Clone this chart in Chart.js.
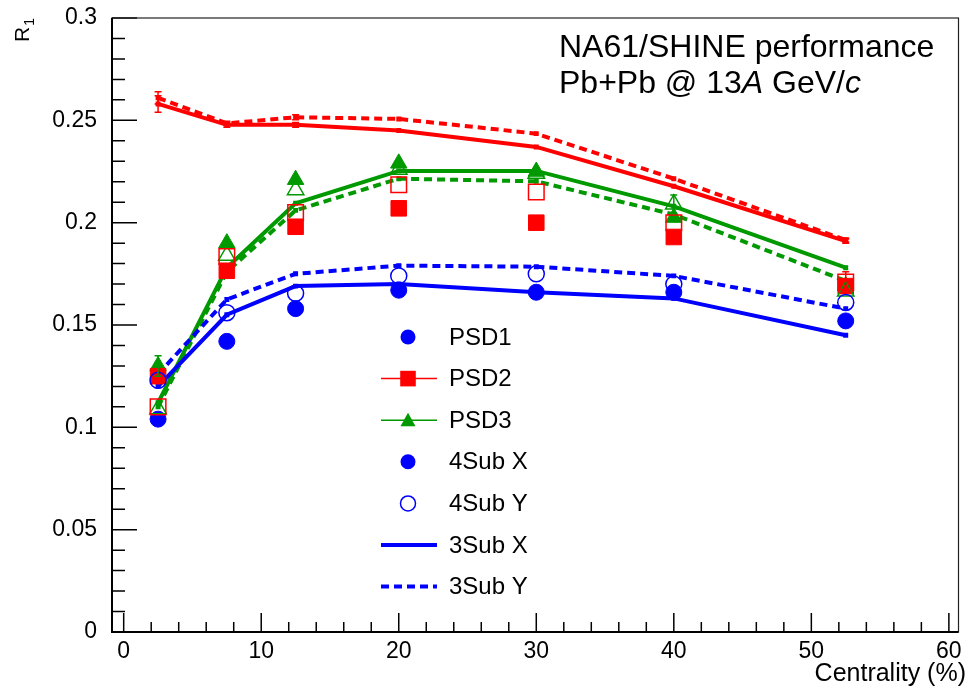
<!DOCTYPE html>
<html>
<head>
<meta charset="utf-8">
<title>R1 vs centrality</title>
<script src="https://cdn.jsdelivr.net/npm/chart.js@4.4.0/dist/chart.umd.min.js"></script>
<style>
  body { margin: 0; background: #fff; }
  #wrap { width: 971px; height: 687px; }
</style>
</head>
<body>
<div id="wrap"><canvas id="r1Chart" width="971" height="687"></canvas></div>
<script>
// Các bin centrality (%)
const centrality = [2.5, 7.5, 12.5, 20, 30, 40, 52.5];

// Nhãn trục
const xTicks = [0, 10, 20, 30, 40, 50, 60];
const yTicks = [0, 0.05, 0.1, 0.15, 0.2, 0.25, 0.3];
const yTickLabels = ['0', '0.05', '0.1', '0.15', '0.2', '0.25', '0.3'];

// PSD1 (xanh)
const psd1Sub4X = [0.104, 0.142, 0.158, 0.167, 0.166, 0.166, 0.152];
const psd1Sub4Y = [0.123, 0.156, 0.1655, 0.174, 0.175, 0.170, 0.161];
const psd1Sub3X = [0.120, 0.155, 0.169, 0.170, 0.166, 0.163, 0.145];
const psd1Sub3Y = [0.126, 0.1625, 0.175, 0.179, 0.1785, 0.174, 0.158];

// PSD2 (đỏ)
const psd2Sub4X = [0.125, 0.1765, 0.198, 0.207, 0.200, 0.193, 0.169];
const psd2Sub4Y = [0.110, 0.1835, 0.205, 0.2185, 0.215, 0.200, 0.171];
const psd2Sub3X = [0.258, 0.2478, 0.2478, 0.245, 0.237, 0.2178, 0.191];
const psd2Sub3Y = [0.261, 0.2485, 0.2515, 0.2507, 0.2435, 0.2215, 0.1915];

// PSD3 (lục)
const psd3Sub4X = [0.130, 0.190, 0.221, 0.229, 0.225, 0.2025, 0.169];
const psd3Sub4Y = [0.109, 0.184, 0.216, 0.226, 0.224, 0.209, 0.1665];
const psd3Sub3X = [0.112, 0.178, 0.2095, 0.2253, 0.2253, 0.208, 0.178];
const psd3Sub3Y = [0.110, 0.176, 0.206, 0.2215, 0.2202, 0.204, 0.1715];

// Sai số nhìn thấy được
const psd2Sub3XErr = [0.004, 0.0012, 0.0012, 0, 0, 0, 0.001];
const psd2Sub3YErr = [0.003, 0.001, 0.0012, 0, 0, 0, 0.001];
const psd3Sub4XErr = [0.005, 0, 0, 0, 0, 0, 0];
const psd3Sub4YErr = [0, 0, 0, 0, 0, 0.0045, 0];
const psd2Sub4YErr = [0, 0, 0, 0, 0, 0, 0.005];

const BLUE = '#0000ff';
const RED = '#ff0000';
const GREEN = '#009900';
const FONT = "'Liberation Sans', Arial, Helvetica, sans-serif";

function pts(vals) {
    return centrality.map((c, i) => ({ x: c, y: vals[i] }));
}

function markerSet(label, vals, color, style, filled, radius, err) {
    return {
        label: label,
        data: pts(vals),
        showLine: false,
        pointStyle: style,
        pointRadius: radius,
        pointHoverRadius: radius,
        pointBackgroundColor: filled ? color : 'rgba(0,0,0,0)',
        pointBorderColor: color,
        pointBorderWidth: filled ? 1 : 1.5,
        yErr: err || null
    };
}

function lineSet(label, vals, color, dashed, err) {
    return {
        label: label,
        data: pts(vals),
        showLine: true,
        borderColor: color,
        borderWidth: 4,
        borderDash: dashed ? [8, 5] : [],
        pointStyle: 'rect',
        pointRadius: 3.5,
        pointHoverRadius: 3.5,
        pointBackgroundColor: color,
        pointBorderColor: color,
        pointBorderWidth: 0,
        fill: false,
        tension: 0,
        yErr: err || null
    };
}

// Khung, vạch chia kiểu ROOT (vạch hướng vào trong)
const rootFrame = {
    id: 'rootFrame',
    beforeDatasetsDraw(chart) {
        const { ctx, chartArea: a, scales: { x, y } } = chart;
        ctx.save();
        ctx.strokeStyle = '#000';
        ctx.lineWidth = 1.5;
        ctx.beginPath();
        for (let k = 0; k <= 30; k++) {
            const px = x.getPixelForValue(k * 2);
            const len = (k % 5 === 0) ? 19 : 10;
            ctx.moveTo(px, a.bottom);
            ctx.lineTo(px, a.bottom - len);
        }
        for (let k = 0; k <= 30; k++) {
            const py = y.getPixelForValue(k / 100);
            const len = (k % 5 === 0) ? 25 : 13;
            ctx.moveTo(a.left, py);
            ctx.lineTo(a.left + len, py);
        }
        ctx.stroke();

        // khung
        ctx.lineWidth = 1.2;
        ctx.strokeStyle = '#222';
        ctx.strokeRect(a.left, a.top, a.right - a.left, a.bottom - a.top);
        ctx.lineWidth = 2;
        ctx.strokeStyle = '#000';
        ctx.beginPath();
        ctx.moveTo(a.left, a.top);
        ctx.lineTo(a.left, a.bottom);
        ctx.lineTo(a.right, a.bottom);
        ctx.stroke();
        ctx.restore();
    },
    afterDatasetsDraw(chart) {
        const { ctx, scales: { x, y } } = chart;
        ctx.save();
        ctx.lineWidth = 1.5;
        chart.data.datasets.forEach(ds => {
            if (!ds.yErr) return;
            ctx.strokeStyle = ds.pointBorderColor;
            ds.data.forEach((p, i) => {
                const e = ds.yErr[i];
                if (!e) return;
                const px = x.getPixelForValue(p.x);
                const yTop = y.getPixelForValue(p.y + e);
                const yBot = y.getPixelForValue(p.y - e);
                ctx.beginPath();
                ctx.moveTo(px, yTop); ctx.lineTo(px, yBot);
                ctx.moveTo(px - 3.5, yTop); ctx.lineTo(px + 3.5, yTop);
                ctx.moveTo(px - 3.5, yBot); ctx.lineTo(px + 3.5, yBot);
                ctx.stroke();
            });
        });
        ctx.restore();
    },
    afterDraw(chart) {
        const ctx = chart.ctx;
        ctx.save();
        ctx.fillStyle = '#000';
        ctx.textBaseline = 'alphabetic';

        // Tiêu đề
        ctx.font = '32px ' + FONT;
        ctx.textAlign = 'left';
        ctx.fillText('NA61/SHINE performance', 559, 57);
        let cx = 559;
        const parts = [['Pb+Pb @ 13', false], ['A', true], [' GeV/', false], ['c', true]];
        parts.forEach(([t, it]) => {
            ctx.font = (it ? 'italic ' : '') + '32px ' + FONT;
            ctx.fillText(t, cx, 93);
            cx += ctx.measureText(t).width;
        });

        // Tiêu đề trục x
        ctx.font = '25px ' + FONT;
        ctx.textAlign = 'right';
        ctx.fillText('Centrality (%)', 966, 681);

        // Tiêu đề trục y: R_1
        ctx.save();
        ctx.translate(29, 18);
        ctx.rotate(-Math.PI / 2);
        ctx.textAlign = 'right';
        ctx.font = '14px ' + FONT;
        ctx.fillText('1', 0, 5);
        const w1 = ctx.measureText('1').width;
        ctx.font = '21px ' + FONT;
        ctx.fillText('R', -w1 - 1, 0);
        ctx.restore();

        // Chú thích
        const legendRows = [
            { text: 'PSD1', kind: 'circle', color: BLUE, filled: true },
            { text: 'PSD2', kind: 'rect', color: RED, filled: true, line: true },
            { text: 'PSD3', kind: 'triangle', color: GREEN, filled: true, line: true },
            { text: '4Sub X', kind: 'circle', color: BLUE, filled: true },
            { text: '4Sub Y', kind: 'circle', color: BLUE, filled: false },
            { text: '3Sub X', kind: 'solid', color: BLUE },
            { text: '3Sub Y', kind: 'dashed', color: BLUE }
        ];
        const mx = 408, lx0 = 381, lx1 = 437, tx = 449;
        legendRows.forEach((r, i) => {
            const ry = 337 + i * 41.6;
            ctx.strokeStyle = r.color;
            ctx.fillStyle = r.color;
            if (r.kind === 'solid' || r.kind === 'dashed') {
                ctx.lineWidth = 4;
                ctx.setLineDash(r.kind === 'dashed' ? [8, 5] : []);
                ctx.beginPath();
                ctx.moveTo(lx0, ry); ctx.lineTo(lx1, ry);
                ctx.stroke();
                ctx.setLineDash([]);
            } else {
                if (r.line) {
                    ctx.lineWidth = 1.5;
                    ctx.beginPath();
                    ctx.moveTo(lx0, ry); ctx.lineTo(lx1, ry);
                    ctx.stroke();
                }
                ctx.beginPath();
                if (r.kind === 'circle') {
                    ctx.arc(mx, ry, 7.5, 0, Math.PI * 2);
                } else if (r.kind === 'rect') {
                    ctx.rect(mx - 7.8, ry - 7.8, 15.6, 15.6);
                } else {
                    ctx.moveTo(mx, ry - 7.5);
                    ctx.lineTo(mx + 7.5, ry + 6);
                    ctx.lineTo(mx - 7.5, ry + 6);
                    ctx.closePath();
                }
                if (r.filled) {
                    ctx.fill();
                } else {
                    ctx.lineWidth = 1.5;
                    ctx.stroke();
                }
            }
            ctx.fillStyle = '#000';
            ctx.font = '24px ' + FONT;
            ctx.textAlign = 'left';
            ctx.textBaseline = 'middle';
            ctx.fillText(r.text, tx, ry + 1);
        });
        ctx.restore();
    }
};

const ctx = document.getElementById('r1Chart').getContext('2d');
const chart = new Chart(ctx, {
    type: 'scatter',
    data: {
        datasets: [
            // điểm rỗng (4Sub Y)
            markerSet('PSD1 4Sub Y', psd1Sub4Y, BLUE, 'circle', false, 8),
            markerSet('PSD2 4Sub Y', psd2Sub4Y, RED, 'rect', false, 11, psd2Sub4YErr),
            markerSet('PSD3 4Sub Y', psd3Sub4Y, GREEN, 'triangle', false, 9.5, psd3Sub4YErr),
            // điểm đặc (4Sub X)
            markerSet('PSD1 4Sub X', psd1Sub4X, BLUE, 'circle', true, 8),
            markerSet('PSD2 4Sub X', psd2Sub4X, RED, 'rect', true, 11),
            markerSet('PSD3 4Sub X', psd3Sub4X, GREEN, 'triangle', true, 9.5, psd3Sub4XErr),
            // đường 3Sub
            lineSet('PSD1 3Sub X', psd1Sub3X, BLUE, false),
            lineSet('PSD1 3Sub Y', psd1Sub3Y, BLUE, true),
            lineSet('PSD2 3Sub X', psd2Sub3X, RED, false, psd2Sub3XErr),
            lineSet('PSD2 3Sub Y', psd2Sub3Y, RED, true, psd2Sub3YErr),
            lineSet('PSD3 3Sub X', psd3Sub3X, GREEN, false),
            lineSet('PSD3 3Sub Y', psd3Sub3Y, GREEN, true)
        ]
    },
    options: {
        responsive: false,
        animation: false,
        devicePixelRatio: 1,
        layout: { padding: { top: 18, right: 5, left: 0, bottom: 0 } },
        plugins: {
            legend: { display: false },
            tooltip: { enabled: false }
        },
        scales: {
            x: {
                type: 'linear',
                min: -0.85,
                max: 60.7,
                grid: { display: false },
                border: { display: false },
                afterBuildTicks: (s) => { s.ticks = xTicks.map(v => ({ value: v })); },
                afterFit: (s) => { s.height = 55; s.paddingLeft = 0; s.paddingRight = 0; },
                ticks: {
                    color: '#000',
                    padding: -2,
                    maxRotation: 0,
                    font: { family: FONT, size: 23 },
                    callback: (v) => String(v)
                }
            },
            y: {
                type: 'linear',
                min: 0,
                max: 0.3,
                grid: { display: false },
                border: { display: false },
                afterBuildTicks: (s) => { s.ticks = yTicks.map(v => ({ value: v })); },
                afterFit: (s) => { s.width = 112; s.paddingTop = 0; s.paddingBottom = 0; },
                ticks: {
                    color: '#000',
                    padding: 7,
                    font: { family: FONT, size: 23 },
                    callback: (v, i) => yTickLabels[i]
                }
            }
        }
    },
    plugins: [rootFrame]
});
</script>
</body>
</html>
